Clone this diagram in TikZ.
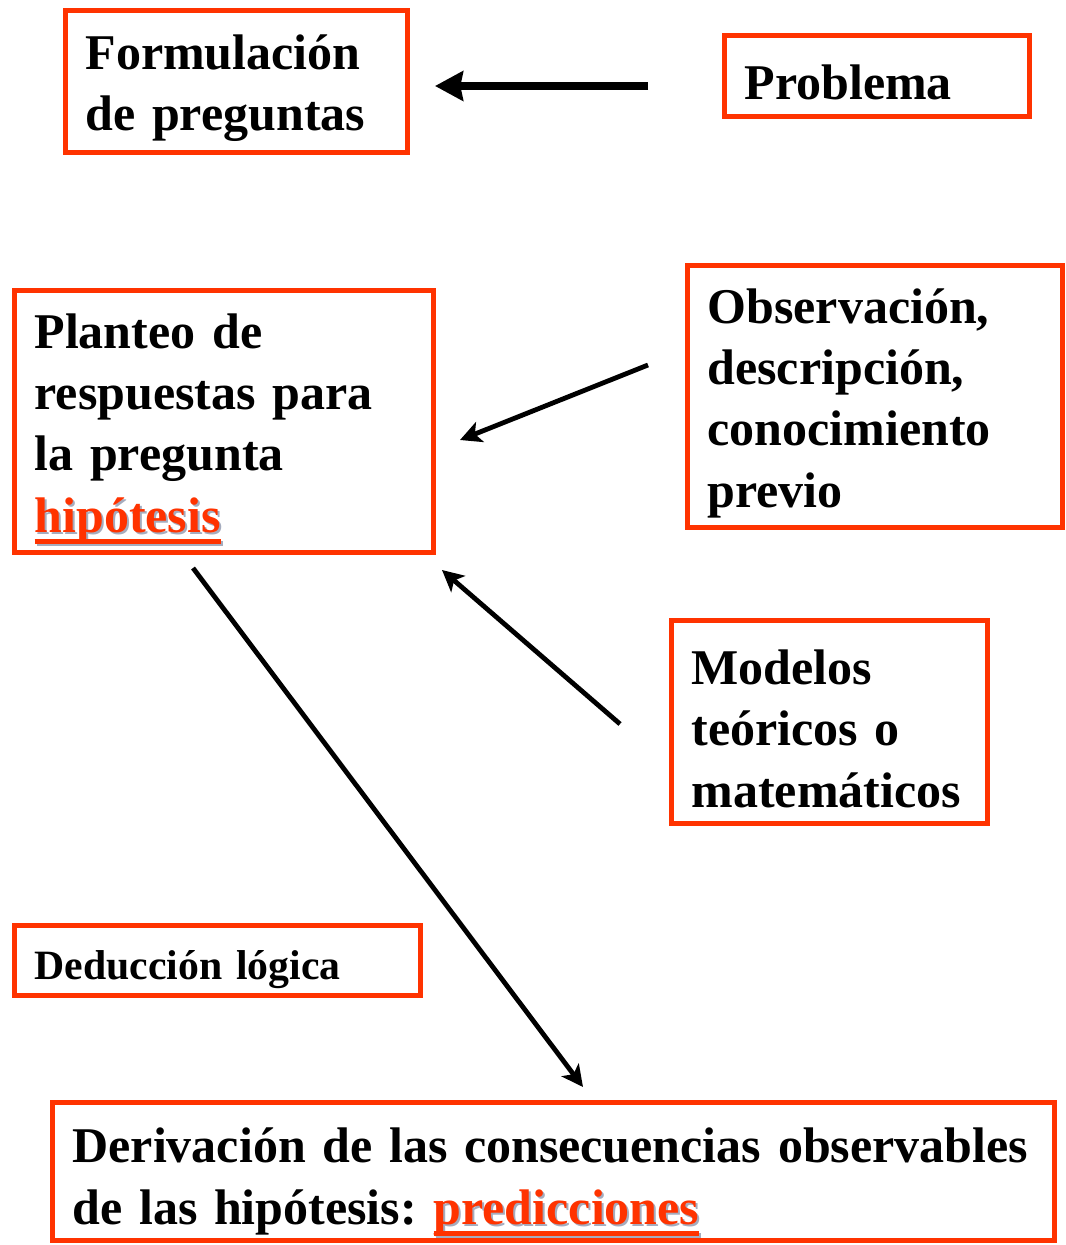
\documentclass[tikz,border=0pt]{standalone}
\usepackage{fontspec}
\setmainfont{Liberation Serif}
\usetikzlibrary{arrows.meta,positioning}

\definecolor{boxred}{RGB}{255,51,0}
\definecolor{shade}{RGB}{165,172,190}

\newlength\wordwd
\newcommand{\redword}[1]{%
  \leavevmode
  \settowidth{\wordwd}{#1}%
  \rlap{\kern1.5pt\raisebox{-1.5pt}{\color{shade}\rlap{#1}\rule[-8.5pt]{\wordwd}{3.6pt}}}%
  {\color{boxred}\rlap{#1}\rule[-8.5pt]{\wordwd}{3.6pt}}}

\begin{document}
\frenchspacing
\begin{tikzpicture}[
  x=0.75pt, y=-0.75pt,
  stepbox/.style={draw=boxred, line width=3.75pt, align=left, inner xsep=15pt, inner ysep=0pt,
    font=\bfseries\fontsize{37.5}{46}\selectfont,
    execute at begin node={\rule{0pt}{36pt}}},
  smallbox/.style={stepbox, font=\bfseries\fontsize{31.3}{38}\selectfont},
  thinarrow/.style={line width=3.6pt, -{Stealth[length=16pt,width=16pt,inset=4pt]}},
  thickarrow/.style={line width=6pt, -{Stealth[length=21pt,width=22pt,inset=2pt]}}
]
  \useasboundingbox (0,0) rectangle (1065,1245);

  % Boxes
  \node[stepbox, text width=226.5pt, minimum height=106.5pt] (formulacion) at (236.5,81.5)
    {Formulación\\de preguntas};
  \node[stepbox, text width=198.75pt, minimum height=60.75pt, execute at begin node={\rule{0pt}{32pt}}] (problema) at (877,76)
    {Problema};
  \node[stepbox, text width=284.25pt, minimum height=196.5pt, execute at begin node={\rule{0pt}{38pt}}] (planteo) at (224,421.5)
    {Planteo de\\respuestas para\\la pregunta\\\redword{hipótesis}};
  \node[stepbox, text width=251.25pt, minimum height=196.5pt] (observacion) at (875,396.5)
    {Observación,\\descripción,\\conocimiento\\previo};
  \node[stepbox, text width=207pt, minimum height=152.25pt] (modelos) at (829.5,722)
    {Modelos\\teóricos o\\matemáticos};
  \node[smallbox, text width=274.5pt, minimum height=52.5pt, execute at begin node={}] (deduccion) at (217.5,960.5)
    {Deducción lógica};
  \node[stepbox, text width=721.5pt, minimum height=103.5pt, execute at begin node={\rule{0pt}{43pt}}] (derivacion) at (553.5,1171.5)
    {Derivación de las consecuencias observables\\de las hipótesis: \redword{predicciones}};

  % Arrow ends
  \coordinate (problema-tail) at (648,86);
  \coordinate (formulacion-tip) at (435,86);
  \coordinate (observacion-tail) at (648,365);
  \coordinate (planteo-tip1) at (460,440);
  \coordinate (modelos-tail) at (620,724);
  \coordinate (planteo-tip2) at (442,570);
  \coordinate (planteo-tail) at (193,568);
  \coordinate (derivacion-tip) at (583,1087);

  % Arrows
  \draw[thickarrow] (problema-tail) -- (formulacion-tip);
  \draw[thinarrow] (observacion-tail) -- (planteo-tip1);
  \draw[thinarrow] (modelos-tail) -- (planteo-tip2);
  \draw[thinarrow] (planteo-tail) -- (derivacion-tip);
\end{tikzpicture}
\end{document}
